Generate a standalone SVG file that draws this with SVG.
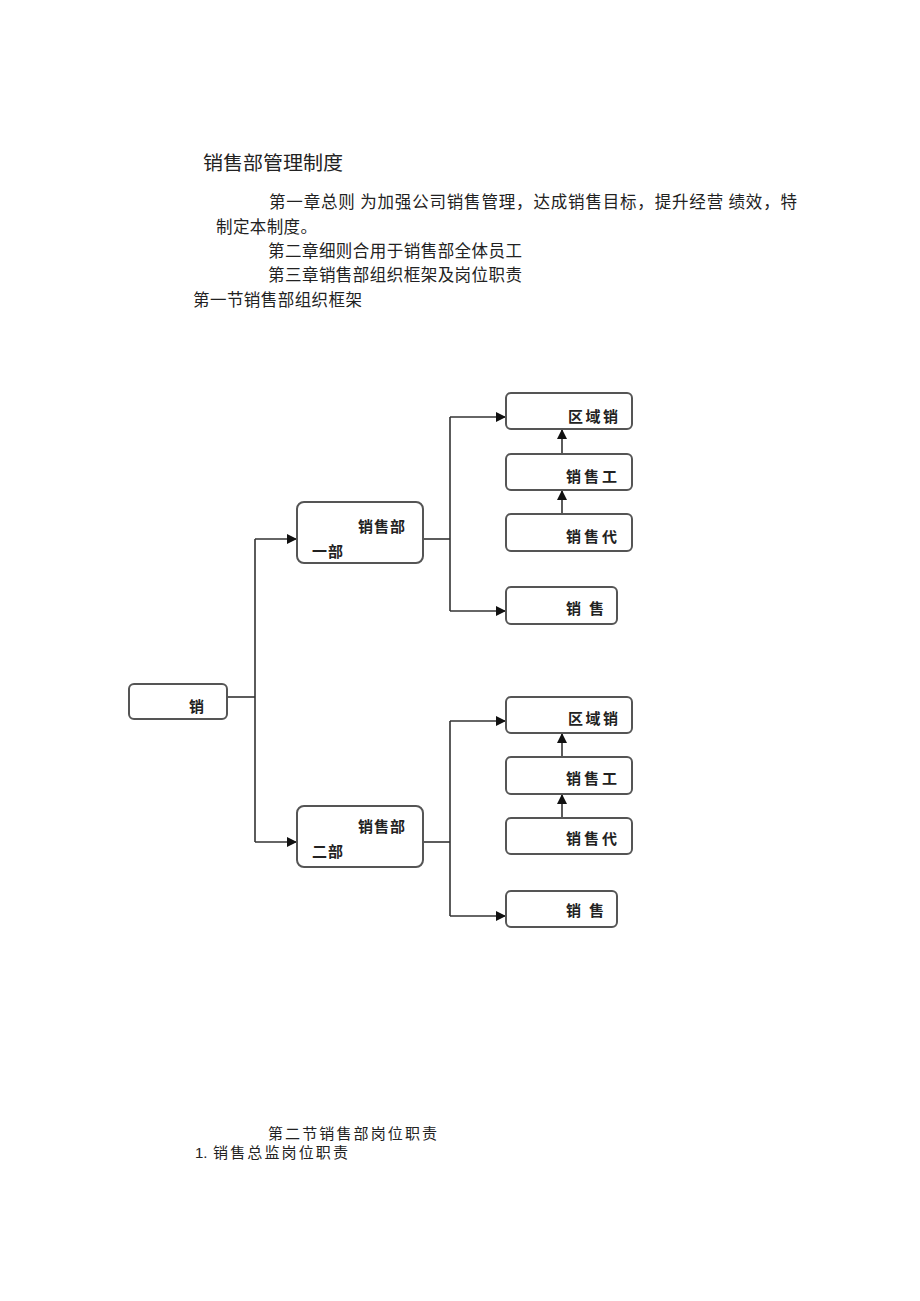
<svg xmlns="http://www.w3.org/2000/svg" width="920" height="1301" viewBox="0 0 920 1301">
<style>
.doc{font-family:"Noto Sans CJK SC","Liberation Sans",sans-serif;font-size:16.5px;fill:#222}
.sm{font-size:15px}
.title{font-family:"Noto Sans CJK SC","Liberation Sans",sans-serif;font-size:19.5px;fill:#222}
.box{fill:#fff;stroke:#555;stroke-width:2}
.lbl{font-family:"Noto Sans CJK SC","Liberation Sans",sans-serif;font-size:15px;font-weight:bold;fill:#222}
.con{fill:none;stroke:#333;stroke-width:1.6}
</style>
<defs>
<marker id="ah" markerUnits="userSpaceOnUse" markerWidth="11" markerHeight="11" refX="10" refY="5" orient="auto">
<path d="M0,0 L10,5 L0,10 Z" fill="#111"/>
</marker>
</defs>
<rect width="920" height="1301" fill="#fff"/>

<g id="text">
<text class="title" x="203" y="170" textLength="140" lengthAdjust="spacingAndGlyphs">销售部管理制度</text>
<text class="doc" x="269" y="208" textLength="528" lengthAdjust="spacing">第一章总则 为加强公司销售管理，达成销售目标，提升经营 绩效，特</text>
<text class="doc" x="216" y="233" textLength="101" lengthAdjust="spacing">制定本制度。</text>
<text class="doc" x="268" y="257" textLength="254" lengthAdjust="spacing">第二章细则合用于销售部全体员工</text>
<text class="doc" x="268" y="281" textLength="254" lengthAdjust="spacing">第三章销售部组织框架及岗位职责</text>
<text class="doc" x="193" y="306" textLength="169" lengthAdjust="spacing">第一节销售部组织框架</text>
<text class="doc sm" x="268" y="1139" textLength="169" lengthAdjust="spacing">第二节销售部岗位职责</text>
<text class="doc sm" x="195" y="1158" style="font-family:'Liberation Sans',sans-serif">1.</text>
<text class="doc sm" x="213" y="1158" textLength="135" lengthAdjust="spacing">销售总监岗位职责</text>
</g>

<g id="connectors">
<path class="con" d="M227,697 H255"/>
<path class="con" d="M255,539 V842"/>
<path class="con" d="M255,539 H297" marker-end="url(#ah)"/>
<path class="con" d="M255,842 H297" marker-end="url(#ah)"/>
<path class="con" d="M423,539 H450"/>
<path class="con" d="M450,417 V611"/>
<path class="con" d="M450,417 H506" marker-end="url(#ah)"/>
<path class="con" d="M450,611 H506" marker-end="url(#ah)"/>
<path class="con" d="M562,454 V429" marker-end="url(#ah)"/>
<path class="con" d="M562,514 V490" marker-end="url(#ah)"/>
<path class="con" d="M423,842 H450"/>
<path class="con" d="M450,721 V916"/>
<path class="con" d="M450,721 H506" marker-end="url(#ah)"/>
<path class="con" d="M450,916 H506" marker-end="url(#ah)"/>
<path class="con" d="M562,757 V733" marker-end="url(#ah)"/>
<path class="con" d="M562,818 V794" marker-end="url(#ah)"/>
</g>

<g id="root">
<rect class="box" x="129" y="684" width="98" height="35" rx="5"/>
<text class="lbl" x="189" y="712">销</text>
</g>

<g id="dept1">
<rect class="box" x="297" y="502" width="126" height="61" rx="7"/>
<text class="lbl" x="358" y="532" textLength="47" lengthAdjust="spacing">销售部</text>
<text class="lbl" x="312" y="557" textLength="31" lengthAdjust="spacing">一部</text>
</g>
<g id="d1-region">
<rect class="box" x="506" y="393" width="126" height="36" rx="5"/>
<text class="lbl" x="568" y="422" textLength="50" lengthAdjust="spacing">区域销</text>
</g>
<g id="d1-worker">
<rect class="box" x="506" y="454" width="126" height="36" rx="5"/>
<text class="lbl" x="566" y="482" textLength="51" lengthAdjust="spacing">销售工</text>
</g>
<g id="d1-agent">
<rect class="box" x="506" y="514" width="126" height="37" rx="5"/>
<text class="lbl" x="566" y="542" textLength="51" lengthAdjust="spacing">销售代</text>
</g>
<g id="d1-sales">
<rect class="box" x="506" y="587" width="111" height="37" rx="5"/>
<text class="lbl" x="566" y="614" textLength="38" lengthAdjust="spacing">销 售</text>
</g>

<g id="dept2">
<rect class="box" x="297" y="806" width="126" height="61" rx="7"/>
<text class="lbl" x="358" y="832" textLength="47" lengthAdjust="spacing">销售部</text>
<text class="lbl" x="312" y="857" textLength="31" lengthAdjust="spacing">二部</text>
</g>
<g id="d2-region">
<rect class="box" x="506" y="697" width="126" height="36" rx="5"/>
<text class="lbl" x="568" y="724" textLength="50" lengthAdjust="spacing">区域销</text>
</g>
<g id="d2-worker">
<rect class="box" x="506" y="757" width="126" height="37" rx="5"/>
<text class="lbl" x="566" y="784" textLength="51" lengthAdjust="spacing">销售工</text>
</g>
<g id="d2-agent">
<rect class="box" x="506" y="818" width="126" height="36" rx="5"/>
<text class="lbl" x="566" y="844" textLength="51" lengthAdjust="spacing">销售代</text>
</g>
<g id="d2-sales">
<rect class="box" x="506" y="891" width="111" height="36" rx="5"/>
<text class="lbl" x="566" y="916" textLength="38" lengthAdjust="spacing">销 售</text>
</g>
</svg>
